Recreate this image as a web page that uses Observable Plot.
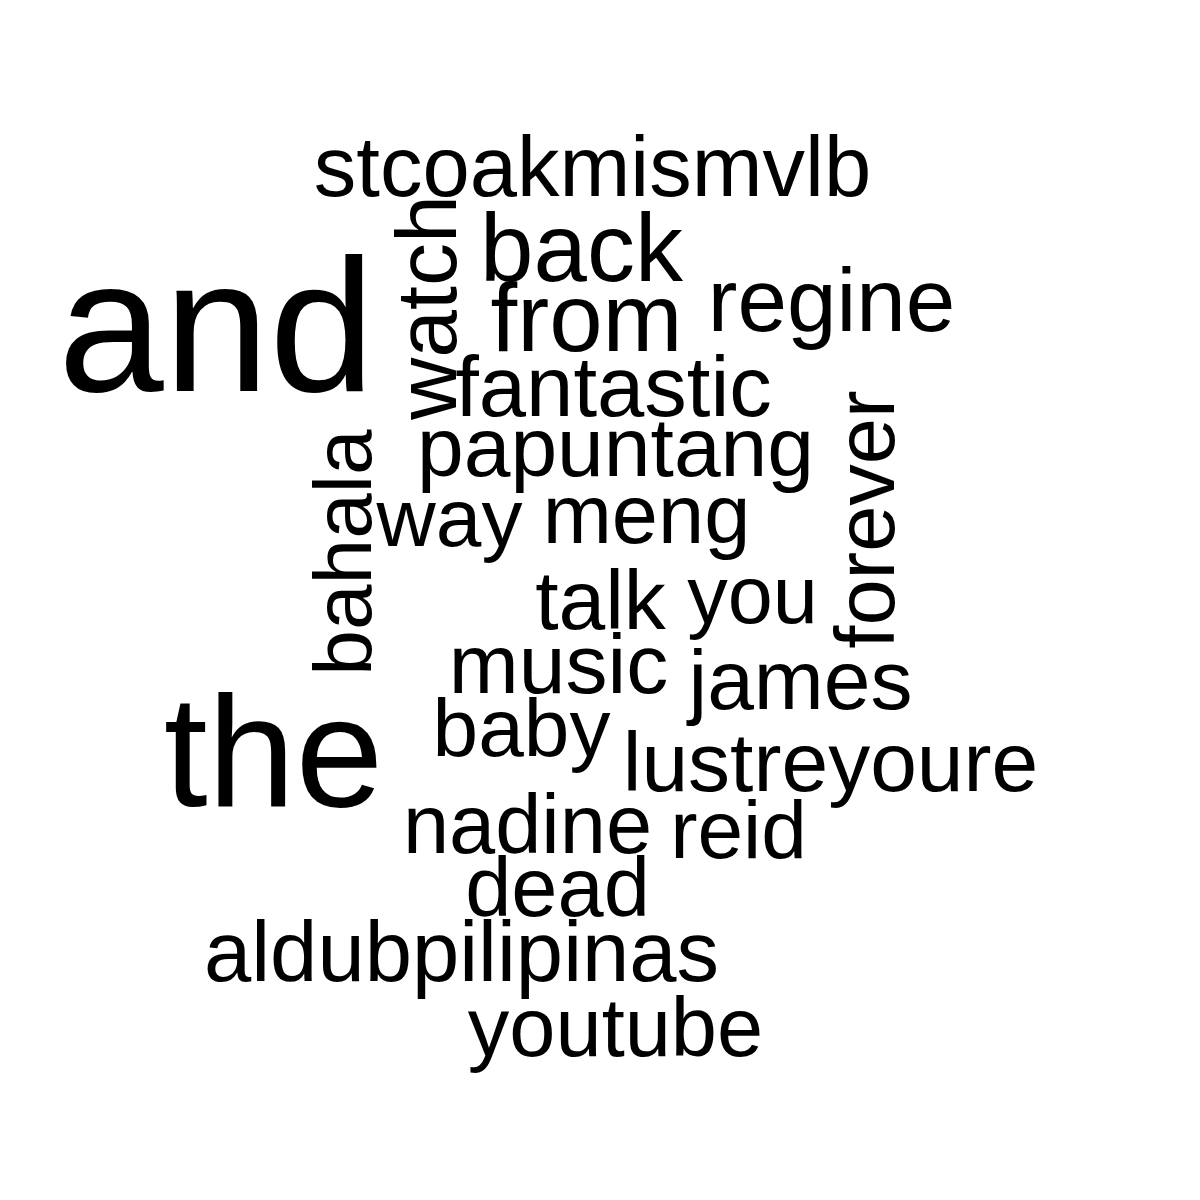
<!DOCTYPE html>
<html><head>
<script src="https://cdn.jsdelivr.net/npm/d3@7"></script>
<script src="https://cdn.jsdelivr.net/npm/@observablehq/plot@0.6"></script>
<style>body{margin:0;background:#fff}</style>
</head><body><div id="chart"></div>
<script>
const words = ["and","the","stcoakmismvlb","back","from","regine","fantastic","papuntang","way","meng","talk","you","music","james","baby","lustreyoure","nadine","reid","dead","aldubpilipinas","youtube","watch","bahala","forever"];
const sizes = [190,158,85,96,96,89,85,84,82,83,84,81,84,84,82,84,83,82,83,85,83,86,82,83];
const cx = [216,273,592,581,586,831,613,615,449,646,600,752,558,800,521,830,527,738,557,461,615,455,370,893];
const cy = [390,805,195,280,350,330,415,475,545,542,628,622,692,708,755,790,852,857,915,980,1055,307,552,519];
const rot = [0,0,0,0,0,0,0,0,0,0,0,0,0,0,0,0,0,0,0,0,0,-90,-90,-90];
const data = words.map((w,i)=>({w, s:sizes[i], r:rot[i],
  x: rot[i] ? cx[i]-0.32*sizes[i] : cx[i],
  y: rot[i] ? cy[i] : cy[i]-0.32*sizes[i]}));
const chart = Plot.plot({
  width:1200, height:1200, margin:0,
  x:{domain:[0,1200], range:[0,1200], axis:null},
  y:{domain:[0,1200], range:[0,1200], axis:null},
  marks:[Plot.text(data,{x:"x",y:"y",text:"w",fontSize:"s",rotate:"r",
    fontFamily:"Liberation Sans, Arial, sans-serif",fill:"black",textAnchor:"middle",lineAnchor:"middle"})]
});
document.getElementById("chart").appendChild(chart);
</script></body></html>
